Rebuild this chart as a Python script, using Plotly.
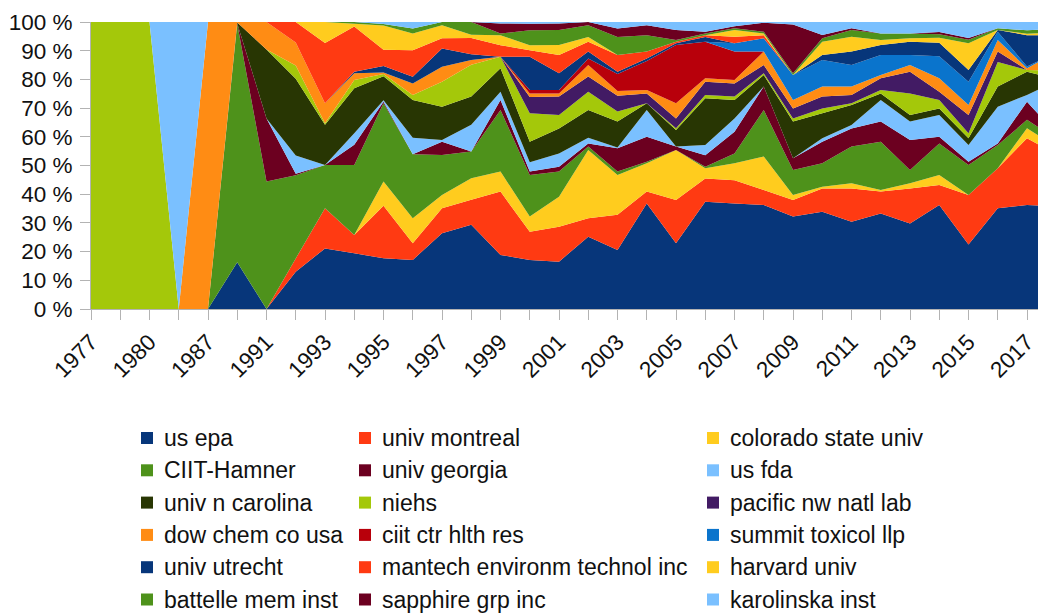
import plotly.graph_objects as go

# ---------------- data ----------------
years = ["1977", "1979", "1980", "1985", "1987", "1989", "1991", "1992", "1993", "1994",
         "1995", "1996", "1997", "1998", "1999", "2000", "2001", "2002", "2003", "2004",
         "2005", "2006", "2007", "2008", "2009", "2010", "2011", "2012", "2013", "2014",
         "2015", "2016", "2017", "2018"]
tick_labels = ["1977", "", "1980", "", "1987", "", "1991", "", "1993", "",
               "1995", "", "1997", "", "1999", "", "2001", "", "2003", "",
               "2005", "", "2007", "", "2009", "", "2011", "", "2013", "",
               "2015", "", "2017", ""]

us_epa = [0, 0, 0, 0, 0, 16.3, 0, 13, 21.1, 19.4, 17.7, 17.1, 26.4, 29.3, 18.8, 17.1, 16.5, 25.2, 20.6, 36.8,
          22.9, 37.4, 36.8, 36.2, 32.2, 33.9, 30.4, 33.3, 29.8, 36.2, 22.5, 35.1, 36.2, 35.9]
univ_montreal = [0, 0, 0, 0, 0, 0, 0, 4.6, 14, 6.4, 18.3, 5.8, 8.7, 8.7, 22.1, 9.8, 12.2, 6.4, 12.2, 4.1,
                 15.1, 8.1, 8.1, 5.3, 5.8, 8.1, 11.6, 7.6, 12.2, 7, 17.2, 13.9, 23.3, 18]
colorado_state_univ = [0, 0, 0, 0, 0, 0, 0, 0, 0, 0, 8.4, 8.7, 4.6, 7.5, 7, 5.3, 10.4, 23.8, 13.9, 9.9,
                       17.4, 3.5, 5.9, 11.6, 1.7, 0.6, 1.8, 0.6, 1.8, 3.5, 0, 0, 3.5, 2.5]
ciit_hamner = [0, 0, 0, 0, 0, 83, 44.4, 29, 15.1, 24.4, 27.3, 22.3, 14, 9.3, 21.4, 14.5, 8.8, 1.2, 1.2, 0.5,
               0, 0.6, 3.4, 16.2, 8.7, 8.2, 12.8, 16.8, 4.6, 11, 10.5, 8.1, 2.9, 2.9]
univ_georgia = [0, 0, 0, 0, 0, 0.2, 22, 0.5, 0, 7, 0.5, 0, 4.6, 0, 3.5, 1.2, 1.7, 1.1, 8.1, 8.7,
                1.2, 4, 7.6, 8.2, 4.1, 7.5, 6.3, 7, 10.5, 2.3, 1.1, 0.6, 6.3, 1.8]
us_fda = [0, 0, 0, 0, 0, 0, 0, 6.4, 0, 4, 0.5, 5.8, 0.6, 9.3, 2.9, 3.2, 4.6, 2, 0.3, 9.3,
          0, 3.5, 4.6, 0, 0, 1.2, 1.2, 7.5, 6.4, 7.6, 5.8, 12.8, 2.4, 18.2]
univ_n_carolina = [0, 0, 0, 0, 0, 0.3, 24, 26.7, 14, 15.7, 8.4, 13.1, 11.6, 9.9, 8.2, 7.2, 8.7, 9.6, 9, 2.4,
                   5.8, 16.3, 6.4, 4, 12.8, 8.7, 7, 2.3, 2.3, 2.3, 2.4, 7, 8.1, 0.7]
niehs = [100, 100, 100, 0, 0, 0, 0, 4.6, 0.5, 2.9, 0.8, 1.8, 8.7, 11, 4, 9.9, 4.7, 6.4, 3.5, 0,
         0.6, 1.2, 1.2, 0.6, 1.1, 1.7, 0.6, 1.2, 7.5, 2.9, 1.7, 8.6, 0.6, 3]
pacific_nw_natl_lab = [0, 0, 0, 0, 0, 0, 0, 0, 0, 0, 0, 0, 0, 0, 0, 5.7, 6.4, 5.3, 5.5, 3.4,
                       3.4, 4.6, 4.6, 2.9, 3.5, 4.1, 2.9, 4.1, 7.6, 2.9, 6.4, 3.6, 0, 0]
dow_chem_co_usa = [0, 0, 0, 0, 100, 0.2, 9.6, 8.1, 7, 2.3, 0.5, 4, 5.2, 1.7, 0, 1.2, 1.1, 4, 1.7, 1.2,
                   5.3, 1.2, 1.2, 4.7, 2.9, 3.5, 2.9, 1.1, 2.3, 4.7, 3.5, 4, 0.6, 6.4]
ciit_ctr_hlth_res = [0, 0, 0, 0, 0, 0, 0, 0, 0, 0, 0, 0, 0, 0, 0, 1.2, 1.2, 2.3, 5.9, 10.1,
                     20.3, 12.7, 9.9, 0, 0, 0, 0, 0, 0, 0, 0, 0, 0, 0]
summit_toxicol_llp = [0, 0, 0, 0, 0, 0, 0, 0, 0, 0, 0, 0, 0, 0, 0, 0, 0, 0, 0, 0,
                      0, 0, 2.9, 4.6, 8.7, 9.3, 7.5, 7, 3.5, 7.7, 8.1, 2.9, 0.6, 0]
univ_utrecht = [0, 0, 0, 0, 0, 0, 0, 0, 0, 0.6, 2.3, 2.3, 6.4, 2, 0, 11.6, 5.8, 2.4, 0.8, 0.9,
                0.6, 1.7, 0, 0, 0, 1.7, 4.7, 3.5, 4.6, 4.7, 4.1, 0.6, 10.9, 6]
mantech = [0, 0, 0, 0, 0, 0, 0, 7.1, 21, 15.7, 5.6, 9.3, 3.5, 5.6, 4, 2.3, 6.4, 3.4, 5.8, 2.4,
           0.5, 0.6, 2.3, 1.1, 0, 0, 0, 0, 0, 0, 0, 0, 0, 0]
harvard_univ = [0, 0, 0, 0, 0, 0, 0, 0, 7.3, 1, 8.5, 5.8, 4.6, 1.2, 3.5, 1.7, 3.5, 1.7, 0, 0,
                0, 0, 2.3, 0.6, 0, 4.6, 5.2, 1.7, 1.2, 1.7, 9.3, 0, 0.5, 1]
battelle_mem_inst = [0, 0, 0, 0, 0, 0, 0, 0, 0, 0.6, 0.5, 1.7, 1.1, 4.4, 0.6, 5.2, 5.2, 4.1, 6.3, 5.7,
                     0.6, 0.6, 0.6, 0.6, 0.6, 1.2, 2.3, 2.3, 1.7, 1.2, 1.2, 0.6, 1.2, 1.2]
sapphire_grp_inc = [0, 0, 0, 0, 0, 0, 0, 0, 0, 0, 0, 0, 0, 0, 3.5, 2.3, 2.3, 1.1, 2.9, 3.5,
                    3.5, 0.6, 0.7, 3.1, 17, 1.2, 0.6, 0, 0, 0.8, 0.6, 0, 0, 0]
karolinska_inst = [0, 0, 0, 100, 0, 0, 0, 0, 0, 0, 0.7, 2.3, 0, 0, 0.5, 0.6, 0.5, 0, 2.3, 1.1,
                   2.8, 3.4, 1.5, 0.3, 0.9, 4.5, 2.2, 4, 4, 3.5, 5.6, 2.2, 2.9, 2.4]

series_names = ["us epa", "univ montreal", "colorado state univ",
                "CIIT-Hamner", "univ georgia", "us fda",
                "univ n carolina", "niehs", "pacific nw natl lab",
                "dow chem co usa", "ciit ctr hlth res", "summit toxicol llp",
                "univ utrecht", "mantech environm technol inc", "harvard univ",
                "battelle mem inst", "sapphire grp inc", "karolinska inst"]
series_values = [us_epa, univ_montreal, colorado_state_univ,
                 ciit_hamner, univ_georgia, us_fda,
                 univ_n_carolina, niehs, pacific_nw_natl_lab,
                 dow_chem_co_usa, ciit_ctr_hlth_res, summit_toxicol_llp,
                 univ_utrecht, mantech, harvard_univ,
                 battelle_mem_inst, sapphire_grp_inc, karolinska_inst]

# ---------------- style ----------------
palette = ["#07367a", "#ff3a12", "#ffcc1e", "#4e921b", "#6c0020", "#7ac0ff",
           "#283603", "#a4c80a", "#421b64", "#ff8c14", "#b8000b", "#0a74cc"]
FONT = "Liberation Sans"
TEXT = "#111111"
AXIS = "#b3b3b3"
OFF = 8                      # page body margin in the browser
W, H = 1046 - OFF, 614 - OFF
PLOT_L, PLOT_T, PLOT_R, PLOT_B = 91, 22, 1046, 309   # page pixels
ML, MT = PLOT_L - OFF, PLOT_T - OFF
MR, MB = 0, 614 - PLOT_B
PW, PH = PLOT_R - PLOT_L, PLOT_B - PLOT_T
CAT_STEP = 29.25             # px between categories

fig = go.Figure()
for k, (name, vals) in enumerate(zip(series_names, series_values)):
    fig.add_trace(go.Scatter(
        x=years, y=vals, name=name, stackgroup="one", groupnorm="percent",
        mode="none", fillcolor=palette[k % len(palette)],
        line=dict(width=0), showlegend=False,
    ))

# custom legend (3 columns, row-major), positions in page pixels
col_px = [141, 359, 707]
row_py = [438, 470.3, 502.6, 534.9, 567.2, 599.5]
sq = 12


def px2x(px):
    return (px - PLOT_L) / PW


def py2y(py):
    return (PLOT_B - py) / PH


shapes, annos = [], []
for k, name in enumerate(series_names):
    r, c = divmod(k, 3)
    px, py = col_px[c], row_py[r]
    shapes.append(dict(type="rect", xref="paper", yref="paper",
                       x0=px2x(px), x1=px2x(px + sq),
                       y0=py2y(py + sq / 2), y1=py2y(py - sq / 2),
                       fillcolor=palette[k % len(palette)], line=dict(width=0)))
    annos.append(dict(xref="paper", yref="paper", x=px2x(px + 21), y=py2y(py),
                      text=name, showarrow=False, xanchor="left", yanchor="middle",
                      font=dict(family=FONT, size=23, color=TEXT)))

fig.update_layout(
    width=W, height=H, margin=dict(l=ML, r=MR, t=MT, b=MB, autoexpand=False),
    paper_bgcolor="white", plot_bgcolor="white",
    font=dict(family=FONT, size=22, color=TEXT),
    showlegend=False, shapes=shapes, annotations=annos,
    xaxis=dict(type="category", categoryorder="array", categoryarray=years,
               range=[0, PW / CAT_STEP], tickmode="array", tickvals=years, ticktext=tick_labels,
               tickangle=-45, ticks="outside", ticklen=10, tickcolor=AXIS, tickwidth=1,
               showline=True, linecolor=AXIS, linewidth=1, showgrid=False, zeroline=False,
               tickfont=dict(family=FONT, size=22.5, color=TEXT), automargin=False),
    yaxis=dict(range=[0, 100], tickmode="array", tickvals=list(range(0, 101, 10)),
               ticktext=[f"{v} %" for v in range(0, 101, 10)],
               ticks="outside", ticklen=10, tickcolor=AXIS, tickwidth=1,
               showline=True, linecolor=AXIS, linewidth=1, showgrid=False, zeroline=False,
               ticklabelstandoff=3,
               tickfont=dict(family=FONT, size=22.5, color=TEXT), automargin=False),
)

fig.write_html("out.html")
